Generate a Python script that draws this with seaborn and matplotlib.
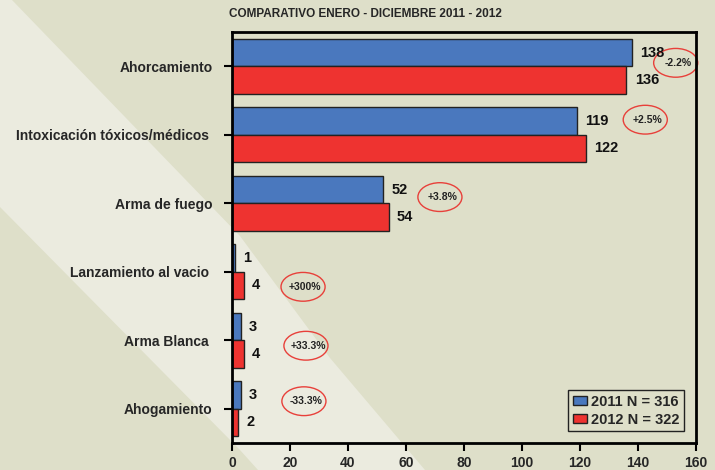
import pandas as pd
import seaborn as sns
import matplotlib.pyplot as plt
from matplotlib.patches import Ellipse, Polygon

# Datos del grafico
categorias = ['Ahorcamiento', 'Intoxicación tóxicos/médicos ', 'Arma de fuego',
              'Lanzamiento al vacio ', 'Arma Blanca ', 'Ahogamiento']
valores_2011 = [138, 119, 52, 1, 3, 3]
valores_2012 = [136, 122, 54, 4, 4, 2]
series = ['2011 N = 316', '2012 N = 322']
variaciones = ['-2.2%', '+2.5%', '+3.8%', '+300%', '+33.3%', '-33.3%']
ticks_x = [0, 20, 40, 60, 80, 100, 120, 140, 160]

# posiciones de los circulos rojos (x, y en unidades de datos)
pos_circulos = [(153, -0.05), (142.5, 0.78), (71.7, 1.91),
                (24.5, 3.22), (25.5, 4.08), (24.8, 4.89)]

azul = '#4A78BE'
rojo = '#EE3330'
fondo = '#DEDFC9'
franja = '#EBEBDF'

# Dataframe en formato largo para seaborn
df = pd.DataFrame({
    'categoria': categorias * 2,
    'valor': valores_2011 + valores_2012,
    'serie': [series[0]] * len(categorias) + [series[1]] * len(categorias),
})

sns.set_style('white')
plt.rcParams['font.family'] = ['Liberation Sans', 'DejaVu Sans']

fig = plt.figure(figsize=(7.15, 4.7), dpi=100, facecolor=fondo)

# franja diagonal clara del fondo (en pixeles de la imagen)
W, H = 715, 470
borde = [(0, 0), (12, 0), (240, 236), (330, 358), (425, 470),
         (258, 470), (240, 450), (0, 207)]
fig.patches.append(Polygon([(x / W, 1 - y / H) for x, y in borde], closed=True,
                           transform=fig.transFigure, facecolor=franja,
                           edgecolor='none', zorder=-10))

ax = fig.add_axes([232 / W, 1 - 443 / H, 464 / W, 411 / H])
ax.set_facecolor('none')

sns.barplot(data=df, y='categoria', x='valor', hue='serie', orient='h',
            palette=[azul, rojo], saturation=1, edgecolor='#222222',
            linewidth=1, width=0.8, ax=ax)

# etiquetas de valores
for cont in ax.containers:
    ax.bar_label(cont, padding=6, fontsize=10.5, fontweight='bold', color='#111111')

# circulos con la variacion porcentual
for (cx, cy), txt in zip(pos_circulos, variaciones):
    ax.add_patch(Ellipse((cx, cy), 15.2, 0.42, facecolor='none',
                         edgecolor='#E8403A', linewidth=1, clip_on=False))
    ax.text(cx + 0.8, cy, txt, ha='center', va='center', fontsize=7.5,
            fontweight='bold', color='#222222')

ax.set_xlim(0, 160)
ax.set_ylim(5.5, -0.5)
ax.set_xticks(ticks_x)
ax.set_xlabel('')
ax.set_ylabel('')
ax.tick_params(axis='both', direction='out', length=6, width=1.5, color='black',
               labelsize=10, left=True, bottom=True)
ax.tick_params(axis='y', pad=8)
for lab in ax.get_xticklabels() + ax.get_yticklabels():
    lab.set_fontweight('bold')
for s in ax.spines.values():
    s.set_visible(True)
    s.set_color('black')
    s.set_linewidth(2)

leg = ax.legend(loc='lower right', borderaxespad=0.8,
                prop={'weight': 'bold', 'size': 10.5}, handlelength=1.0,
                handleheight=0.6, handletextpad=0.3, labelspacing=0.3,
                fancybox=False, edgecolor='#222222', facecolor=fondo,
                framealpha=1, borderpad=0.3)
leg.get_frame().set_linewidth(1)

fig.text(365 / W, 1 - 14 / H, 'COMPARATIVO ENERO - DICIEMBRE 2011 - 2012',
         ha='center', va='center', fontsize=8.5, fontweight='bold')

fig.savefig('out.png', dpi=100, facecolor=fondo)
